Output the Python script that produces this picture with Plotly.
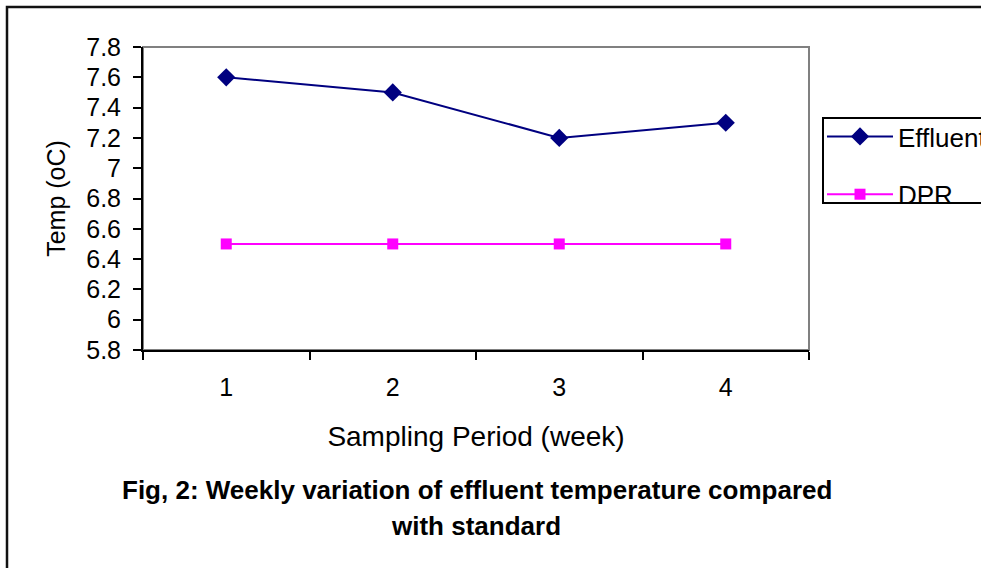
import plotly.graph_objects as go

weeks = ["1", "2", "3", "4"]
effluent = [7.6, 7.5, 7.2, 7.3]
dpr = [6.5, 6.5, 6.5, 6.5]
y_ticks = [5.8, 6.0, 6.2, 6.4, 6.6, 6.8, 7.0, 7.2, 7.4, 7.6, 7.8]
y_tick_labels = ["5.8", "6", "6.2", "6.4", "6.6", "6.8", "7", "7.2", "7.4", "7.6", "7.8"]

FONT = "Liberation Sans, Arial, sans-serif"
W, H = 981, 568
L, R, T, B = 143, 809, 47, 350
pw, ph = R - L, B - T

def px(x):
    return (x - L) / pw

def py(y):
    return (B - y) / ph

fig = go.Figure()
fig.add_trace(go.Scatter(
    x=weeks, y=effluent, name="Effluent", mode="lines+markers",
    line=dict(color="#000080", width=2),
    marker=dict(symbol="diamond", size=14, color="#000080"),
    legendgroup="a",
))
fig.add_trace(go.Scatter(
    x=weeks, y=dpr, name="DPR", mode="lines+markers",
    line=dict(color="#FF00FF", width=2),
    marker=dict(symbol="square", size=11, color="#FF00FF"),
    legendgroup="b",
))

fig.update_layout(
    width=W, height=H,
    margin=dict(l=L, r=W - R, t=T, b=H - B, autoexpand=False),
    paper_bgcolor="white", plot_bgcolor="white",
    font=dict(family=FONT, size=25, color="black"),
    showlegend=True,
    legend=dict(
        x=px(822), y=py(113), xanchor="left", yanchor="top",
        borderwidth=0, bgcolor="rgba(0,0,0,0)",
        font=dict(size=26), traceorder="grouped", tracegroupgap=21,
        itemwidth=66,
    ),
    xaxis=dict(
        type="category", tickson="boundaries", ticks="outside", ticklen=8,
        tickwidth=1.5, tickcolor="black", showline=True, linecolor="black",
        linewidth=2, showgrid=False, zeroline=False, ticklabelstandoff=14,
        tickfont=dict(size=25),
        title=dict(text="Sampling Period (week)", standoff=26, font=dict(size=28)),
        range=[-0.5, 3.5],
    ),
    yaxis=dict(
        range=[5.8, 7.8], tickvals=y_ticks, ticktext=y_tick_labels,
        ticks="outside", ticklen=8, tickwidth=1.5, tickcolor="black",
        showline=True, linecolor="black", linewidth=2, showgrid=False,
        zeroline=False, ticklabelstandoff=7, tickfont=dict(size=25),
        title=dict(text="Temp (oC)", standoff=13, font=dict(size=25)),
    ),
    shapes=[
        dict(type="rect", xref="paper", yref="paper", x0=0, y0=0, x1=1, y1=1,
             line=dict(color="#808080", width=2), layer="below"),
        dict(type="rect", xref="paper", yref="paper",
             x0=px(7), y0=py(7), x1=px(1000), y1=py(600),
             line=dict(color="#111111", width=2.5), layer="below"),
        dict(type="rect", xref="paper", yref="paper",
             x0=px(823), y0=py(118), x1=px(1000), y1=py(203),
             line=dict(color="black", width=2), layer="below"),
    ],
    annotations=[
        dict(text="<b>Fig, 2: Weekly variation of effluent temperature compared</b>",
             xref="paper", yref="paper", x=px(477), y=py(490),
             xanchor="center", yanchor="middle", showarrow=False,
             font=dict(size=26)),
        dict(text="<b>with standard</b>",
             xref="paper", yref="paper", x=px(476), y=py(526),
             xanchor="center", yanchor="middle", showarrow=False,
             font=dict(size=26)),
    ],
)

fig.write_html("out.html")
